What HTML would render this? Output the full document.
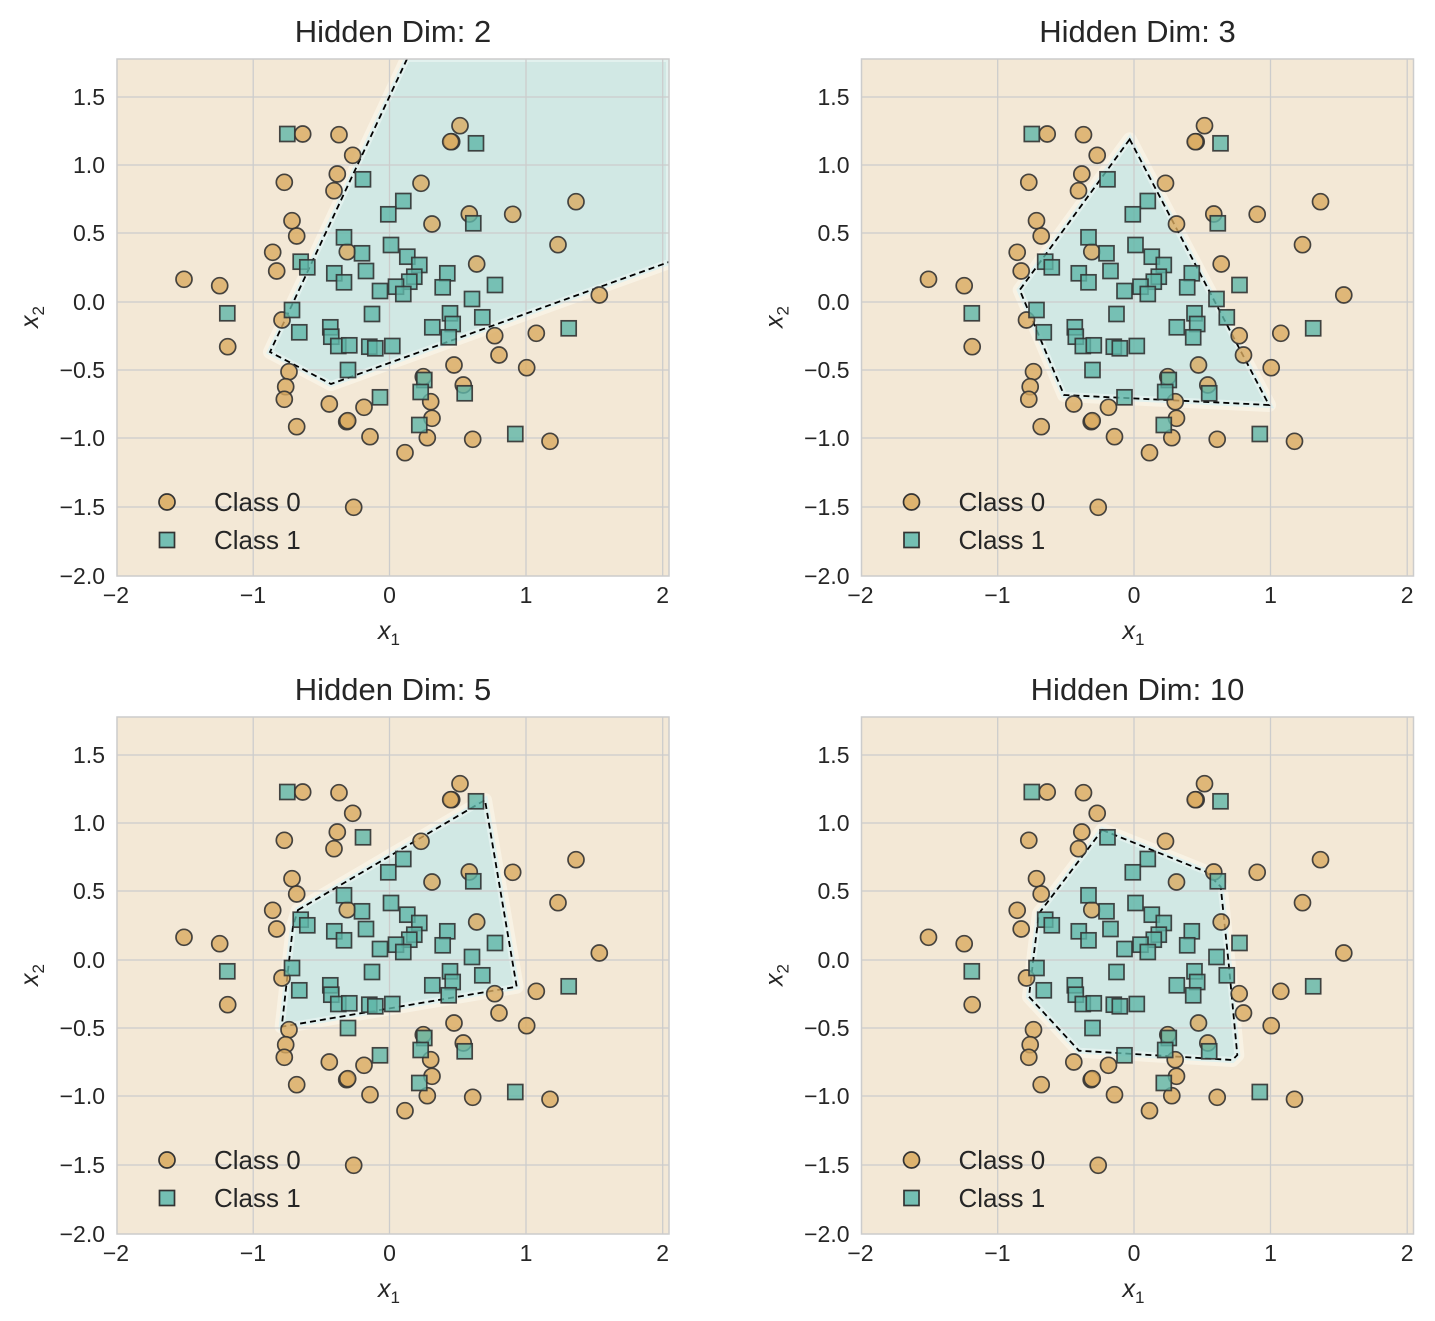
<!DOCTYPE html>
<html><head><meta charset="utf-8"><style>
body{margin:0;background:#fff}
svg{display:block}
text{font-family:"Liberation Sans","DejaVu Sans",sans-serif;fill:#262626}
.tk{font-size:23px}
.lg{font-size:26px}
.ax{font-size:25px;font-style:italic}
.sb{font-size:17px;font-style:normal}
.tt{font-size:31px}
</style></head><body>
<svg width="1435" height="1321" viewBox="0 0 1435 1321" xmlns="http://www.w3.org/2000/svg">
<defs>
<clipPath id="ax"><rect x="117" y="59" width="552" height="517"/></clipPath>
<g id="grid" stroke="#cccccc" stroke-width="1.3" fill="none">
<line x1="253.2" y1="59" x2="253.2" y2="576"/><line x1="389.5" y1="59" x2="389.5" y2="576"/><line x1="526" y1="59" x2="526" y2="576"/><line x1="662.7" y1="59" x2="662.7" y2="576"/>
<line x1="117" y1="97" x2="669" y2="97"/><line x1="117" y1="165" x2="669" y2="165"/><line x1="117" y1="233" x2="669" y2="233"/><line x1="117" y1="302" x2="669" y2="302"/><line x1="117" y1="370" x2="669" y2="370"/><line x1="117" y1="438" x2="669" y2="438"/><line x1="117" y1="507" x2="669" y2="507"/>
</g>
<g id="labels">
<g text-anchor="end">
<text class="tk" x="105" y="105">1.5</text><text class="tk" x="105" y="173">1.0</text><text class="tk" x="105" y="241">0.5</text><text class="tk" x="105" y="310">0.0</text><text class="tk" x="105" y="378">−0.5</text><text class="tk" x="105" y="446">−1.0</text><text class="tk" x="105" y="515">−1.5</text><text class="tk" x="105" y="584">−2.0</text>
</g>
<g text-anchor="middle">
<text class="tk" x="116" y="603">−2</text><text class="tk" x="253" y="603">−1</text><text class="tk" x="389.5" y="603">0</text><text class="tk" x="526" y="603">1</text><text class="tk" x="662.7" y="603">2</text>
<text class="ax" x="389" y="639">x<tspan class="sb" dy="6">1</tspan></text>
<text class="ax" transform="translate(38,317) rotate(-90)">x<tspan class="sb" dy="6">2</tspan></text>
</g>
<circle cx="167" cy="502" r="8" fill="#ddb36f" stroke="#333" stroke-width="1.7"/>
<rect x="159.5" y="532.5" width="15" height="15" fill="#74bfb3" stroke="#333" stroke-width="1.7"/>
<text class="lg" x="214" y="511">Class 0</text>
<text class="lg" x="214" y="549">Class 1</text>
</g>
<g id="pts" stroke="#333" stroke-width="1.7" stroke-opacity="0.9">
<g fill="#d9aa60" fill-opacity="0.8">
<circle cx="302.7" cy="134" r="8"/><circle cx="339" cy="134.7" r="8"/><circle cx="460" cy="125.7" r="8"/><circle cx="451.7" cy="141.7" r="8"/><circle cx="450.7" cy="141.7" r="8"/><circle cx="352.7" cy="155.3" r="8"/><circle cx="337.3" cy="174" r="8"/><circle cx="284.3" cy="182.3" r="8"/><circle cx="334" cy="190.7" r="8"/><circle cx="421" cy="183.3" r="8"/><circle cx="576" cy="201.7" r="8"/><circle cx="292" cy="220.7" r="8"/><circle cx="296.7" cy="236" r="8"/><circle cx="469.3" cy="214" r="8"/><circle cx="432" cy="224" r="8"/><circle cx="512.7" cy="214.3" r="8"/><circle cx="272.7" cy="252.3" r="8"/><circle cx="347.3" cy="251.7" r="8"/><circle cx="558" cy="244.7" r="8"/><circle cx="276.7" cy="271" r="8"/><circle cx="476.7" cy="264" r="8"/><circle cx="184" cy="279.3" r="8"/><circle cx="219.7" cy="285.7" r="8"/><circle cx="599.3" cy="295" r="8"/>
<circle cx="282" cy="320" r="8"/><circle cx="227.7" cy="346.7" r="8"/><circle cx="494.7" cy="335.7" r="8"/><circle cx="536.3" cy="333.3" r="8"/><circle cx="499" cy="355" r="8"/><circle cx="454" cy="365" r="8"/><circle cx="526.7" cy="367.7" r="8"/><circle cx="289" cy="371.7" r="8"/><circle cx="423.3" cy="376.7" r="8"/><circle cx="285.7" cy="386.7" r="8"/><circle cx="284.3" cy="399.3" r="8"/><circle cx="463.3" cy="385" r="8"/><circle cx="329.3" cy="404" r="8"/><circle cx="364" cy="407.3" r="8"/><circle cx="430.7" cy="401.7" r="8"/><circle cx="346.7" cy="421.7" r="8"/><circle cx="347.7" cy="420.7" r="8"/><circle cx="432" cy="418.3" r="8"/><circle cx="296.7" cy="426.7" r="8"/><circle cx="370" cy="436.7" r="8"/><circle cx="427.3" cy="437.7" r="8"/><circle cx="472.7" cy="439.3" r="8"/><circle cx="550" cy="441.3" r="8"/><circle cx="405" cy="452.7" r="8"/><circle cx="353.7" cy="507.3" r="8"/>
</g>
<g fill="#5fb5a8" fill-opacity="0.8">
<rect x="279.8" y="126.5" width="15" height="15"/><rect x="468.5" y="135.8" width="15" height="15"/><rect x="355.5" y="171.8" width="15" height="15"/><rect x="395.8" y="193.5" width="15" height="15"/><rect x="380.8" y="206.8" width="15" height="15"/><rect x="465.8" y="215.8" width="15" height="15"/><rect x="336.5" y="229.8" width="15" height="15"/><rect x="383.5" y="237.5" width="15" height="15"/><rect x="354.5" y="245.8" width="15" height="15"/><rect x="399.8" y="249.2" width="15" height="15"/><rect x="411.8" y="257.5" width="15" height="15"/><rect x="293.2" y="254.2" width="15" height="15"/><rect x="299.8" y="259.8" width="15" height="15"/><rect x="326.8" y="265.8" width="15" height="15"/><rect x="358.5" y="263.5" width="15" height="15"/><rect x="439.8" y="265.8" width="15" height="15"/><rect x="336.5" y="274.8" width="15" height="15"/><rect x="406.8" y="269.2" width="15" height="15"/><rect x="401.8" y="274.2" width="15" height="15"/><rect x="487.5" y="277.5" width="15" height="15"/><rect x="388.5" y="279.2" width="15" height="15"/><rect x="372.5" y="283.5" width="15" height="15"/><rect x="395.8" y="286.5" width="15" height="15"/><rect x="435.2" y="279.8" width="15" height="15"/><rect x="464.5" y="291.5" width="15" height="15"/>
<rect x="219.8" y="305.8" width="15" height="15"/><rect x="284.5" y="302.5" width="15" height="15"/><rect x="364.5" y="306.5" width="15" height="15"/><rect x="442.5" y="305.8" width="15" height="15"/><rect x="445.2" y="316.5" width="15" height="15"/><rect x="474.8" y="309.8" width="15" height="15"/><rect x="424.8" y="319.8" width="15" height="15"/><rect x="561.2" y="320.8" width="15" height="15"/><rect x="291.8" y="324.8" width="15" height="15"/><rect x="322.8" y="319.8" width="15" height="15"/><rect x="323.8" y="329.2" width="15" height="15"/><rect x="330.8" y="338.5" width="15" height="15"/><rect x="341.8" y="337.8" width="15" height="15"/><rect x="361.8" y="339.2" width="15" height="15"/><rect x="367.8" y="340.8" width="15" height="15"/><rect x="384.8" y="338.5" width="15" height="15"/><rect x="441.2" y="329.8" width="15" height="15"/><rect x="340.5" y="362.5" width="15" height="15"/><rect x="416.8" y="372.5" width="15" height="15"/><rect x="413.2" y="384.5" width="15" height="15"/><rect x="457.2" y="385.8" width="15" height="15"/><rect x="372.5" y="389.8" width="15" height="15"/><rect x="411.8" y="417.5" width="15" height="15"/><rect x="507.8" y="426.5" width="15" height="15"/>
</g>
</g>
<g id="frame"><rect x="117" y="59" width="552" height="517" fill="none" stroke="#cccccc" stroke-width="1.5"/></g>
</defs>

<!-- Panel TL -->
<g>
<g clip-path="url(#ax)">
<rect x="117" y="59" width="552" height="517" fill="#f3e8d6"/>
<polygon points="407,59 669,59 669,262 331,384 270,352" fill="#e0f0ec" stroke="#f8f2e4" stroke-width="14" stroke-linejoin="round"/>
<polygon points="407,59 669,59 669,262 331,384 270,352" fill="#d1e8e4" stroke="#e2f1ee" stroke-width="6"/>
<use href="#grid"/>
<polyline points="407,59 270,352 331,384 669,262" fill="none" stroke="#000" stroke-width="1.8" stroke-dasharray="6,4"/>
</g>
<use href="#pts"/><use href="#frame"/><use href="#labels"/>
<text class="tt" x="393" y="42" text-anchor="middle">Hidden Dim: 2</text>
</g>

<!-- Panel TR -->
<g transform="translate(744.5,0)">
<g clip-path="url(#ax)">
<rect x="117" y="59" width="552" height="517" fill="#f3e8d6"/>
<polygon points="385.2,139.3 275.2,290 319.5,395 524.5,405" fill="#e0f0ec" stroke="#f8f2e4" stroke-width="14" stroke-linejoin="round"/>
<polygon points="385.2,139.3 275.2,290 319.5,395 524.5,405" fill="#d1e8e4" stroke="#e2f1ee" stroke-width="6"/>
<use href="#grid"/>
<polygon points="385.2,139.3 275.2,290 319.5,395 524.5,405" fill="none" stroke="#000" stroke-width="1.8" stroke-dasharray="6,4"/>
</g>
<use href="#pts"/><use href="#frame"/><use href="#labels"/>
<text class="tt" x="393" y="42" text-anchor="middle">Hidden Dim: 3</text>
</g>

<!-- Panel BL -->
<g transform="translate(0,658)">
<g clip-path="url(#ax)">
<rect x="117" y="59" width="552" height="517" fill="#f3e8d6"/>
<polygon points="298,252 485,142 516.7,328.7 281.7,368.7 293,268" fill="#e0f0ec" stroke="#f8f2e4" stroke-width="14" stroke-linejoin="round"/>
<polygon points="298,252 485,142 516.7,328.7 281.7,368.7 293,268" fill="#d1e8e4" stroke="#e2f1ee" stroke-width="6"/>
<use href="#grid"/>
<polygon points="298,252 485,142 516.7,328.7 281.7,368.7 293,268" fill="none" stroke="#000" stroke-width="1.8" stroke-dasharray="6,4"/>
</g>
<use href="#pts"/><use href="#frame"/><use href="#labels"/>
<text class="tt" x="393" y="42" text-anchor="middle">Hidden Dim: 5</text>
</g>

<!-- Panel BR -->
<g transform="translate(744.5,658)">
<g clip-path="url(#ax)">
<rect x="117" y="59" width="552" height="517" fill="#f3e8d6"/>
<polygon points="357.8,172 461.2,213.7 476.2,228.7 484.5,308.7 492.8,397 487.8,402 334.5,392.7 284.5,338.7 289.5,295.3 294.5,255.3" fill="#e0f0ec" stroke="#f8f2e4" stroke-width="14" stroke-linejoin="round"/>
<polygon points="357.8,172 461.2,213.7 476.2,228.7 484.5,308.7 492.8,397 487.8,402 334.5,392.7 284.5,338.7 289.5,295.3 294.5,255.3" fill="#d1e8e4" stroke="#e2f1ee" stroke-width="6"/>
<use href="#grid"/>
<polygon points="357.8,172 461.2,213.7 476.2,228.7 484.5,308.7 492.8,397 487.8,402 334.5,392.7 284.5,338.7 289.5,295.3 294.5,255.3" fill="none" stroke="#000" stroke-width="1.8" stroke-dasharray="6,4"/>
</g>
<use href="#pts"/><use href="#frame"/><use href="#labels"/>
<text class="tt" x="393" y="42" text-anchor="middle">Hidden Dim: 10</text>
</g>
</svg>
</body></html>
